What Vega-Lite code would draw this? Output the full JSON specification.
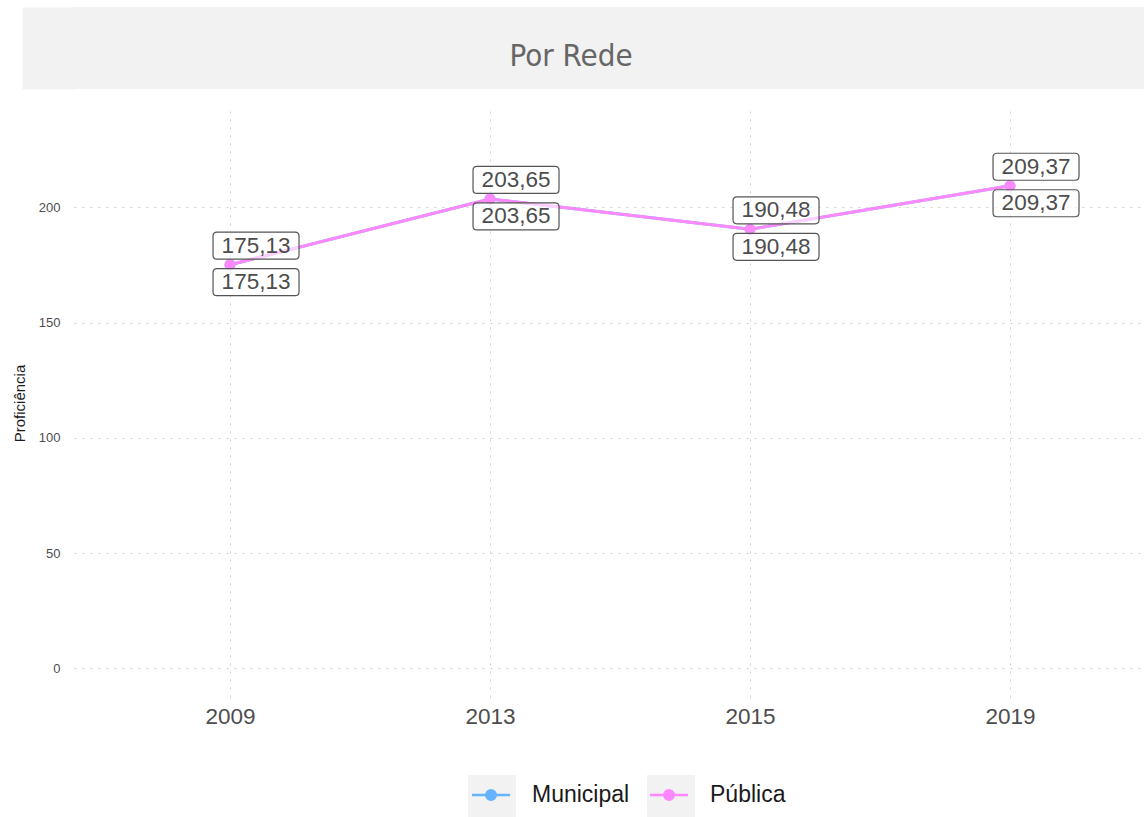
{
  "$schema": "https://vega.github.io/schema/vega-lite/v6.json",
  "background": "white",
  "padding": {"left": 12, "top": 7, "right": 0, "bottom": 0},
  "spacing": 22,
  "config": {"view": {"stroke": null}},
  "datasets": {
    "faixa": [{"painel": "Por Rede"}],
    "dados": [
      {"ano": "2009", "serie": "Municipal", "valor": 175.13, "rotulo": "175,13"},
      {"ano": "2013", "serie": "Municipal", "valor": 203.65, "rotulo": "203,65"},
      {"ano": "2015", "serie": "Municipal", "valor": 190.48, "rotulo": "190,48"},
      {"ano": "2019", "serie": "Municipal", "valor": 209.37, "rotulo": "209,37"},
      {"ano": "2009", "serie": "Pública", "valor": 175.13, "rotulo": "175,13"},
      {"ano": "2013", "serie": "Pública", "valor": 203.65, "rotulo": "203,65"},
      {"ano": "2015", "serie": "Pública", "valor": 190.48, "rotulo": "190,48"},
      {"ano": "2019", "serie": "Pública", "valor": 209.37, "rotulo": "209,37"}
    ]
  },
  "vconcat": [
    {
      "data": {"name": "faixa"},
      "width": 1070,
      "height": 82,
      "view": {"fill": "#f2f2f2", "stroke": null},
      "mark": {"type": "text", "font": "Liberation Sans Narrow, DejaVu Sans Condensed", "fontSize": 31, "color": "#666666", "dx": -38, "dy": 9, "baseline": "middle"},
      "encoding": {
        "text": {"field": "painel", "type": "nominal"},
        "y": {"field": "painel", "type": "nominal", "axis": {"title": null, "labels": false, "ticks": false, "grid": false, "domain": true, "domainColor": "#f2f2f2", "domainWidth": 52, "offset": 26}}
      }
    },
    {
      "data": {"name": "dados"},
      "width": 1070,
      "height": 584,
      "encoding": {
        "x": {
          "field": "ano", "type": "ordinal",
          "scale": {"type": "point", "padding": 0.5577, "align": 0.538},
          "axis": {"title": null, "labelAngle": 0, "labelFont": "Liberation Sans", "labelFontSize": 22.5, "labelColor": "#4d4d4d", "labelPadding": 7, "domain": false, "ticks": true, "tickSize": 3, "tickColor": "#d9d9d9", "grid": true, "gridColor": "#d0d0d0", "gridDash": [2, 6], "gridWidth": 1}
        },
        "y": {
          "field": "valor", "type": "quantitative",
          "scale": {"domain": [-11.5, 241.8], "nice": false, "zero": false},
          "axis": {"title": "Proficiência", "values": [0, 50, 100, 150, 200], "labelFont": "Liberation Sans", "labelFontSize": 13, "labelColor": "#4d4d4d", "labelPadding": 14, "domain": false, "ticks": false, "grid": true, "gridColor": "#d0d0d0", "gridDash": [2, 6], "gridWidth": 1, "titleFont": "Liberation Sans", "titleFontSize": 15, "titleFontWeight": "normal", "titleColor": "#1a1a1a", "titlePadding": 11}
        }
      },
      "layer": [
        {
          "mark": {"type": "point", "filled": true, "size": 0, "opacity": 1},
          "encoding": {
            "color": {
              "field": "serie", "type": "nominal",
              "scale": {"range": ["#f2f2f2", "#f2f2f2"]},
              "legend": {
                "title": null, "orient": "none", "legendX": 394, "legendY": 768, "direction": "horizontal",
                "symbolType": "M-1.143,-1L1.143,-1L1.143,1L-1.143,1Z",
                "symbolSize": 1764, "symbolStrokeWidth": 0, "symbolOffset": 3,
                "labelExpr": "''", "labelFontSize": 23, "labelOffset": 21,
                "columnPadding": 112, "padding": 0
              }
            }
          }
        },
        {
          "mark": {"type": "line", "strokeWidth": 3},
          "encoding": {
            "stroke": {
              "field": "serie", "type": "nominal",
              "scale": {"domain": ["Municipal", "Pública"], "range": ["#66B2FF", "#FF88FF"]},
              "legend": {
                "title": null, "orient": "none", "legendX": 394, "legendY": 768, "direction": "horizontal",
                "symbolType": "M-1.027,0L1.027,0M0.257,0A0.257,0.257,0,1,1,-0.257,0A0.257,0.257,0,1,1,0.257,0Z",
                "symbolSize": 1369, "symbolStrokeWidth": 2.5, "symbolOffset": 3,
                "labelFont": "Liberation Sans", "labelFontSize": 23, "labelColor": "#1a1a1a", "labelOffset": 21,
                "columnPadding": 15, "padding": 0
              }
            }
          }
        },
        {
          "mark": {"type": "point", "filled": true, "size": 120, "opacity": 1},
          "encoding": {
            "fill": {
              "field": "serie", "type": "nominal",
              "scale": {"domain": ["Municipal", "Pública"], "range": ["#66B2FF", "#FF88FF"]},
              "legend": {
                "title": null, "orient": "none", "legendX": 394, "legendY": 768, "direction": "horizontal",
                "symbolType": "M-1.027,0L1.027,0M0.257,0A0.257,0.257,0,1,1,-0.257,0A0.257,0.257,0,1,1,0.257,0Z",
                "symbolSize": 1369, "symbolStrokeWidth": 2.5, "symbolOffset": 3,
                "labelFont": "Liberation Sans", "labelFontSize": 23, "labelColor": "#1a1a1a", "labelOffset": 21,
                "columnPadding": 15, "padding": 0
              }
            }
          }
        },
        {
          "transform": [{"filter": "datum.serie === 'Pública'"}],
          "mark": {"type": "point", "shape": "M-0.907,-0.314L0.907,-0.314Q1,-0.314,1,-0.221L1,0.221Q1,0.314,0.907,0.314L-0.907,0.314Q-1,0.314,-1,0.221L-1,-0.221Q-1,-0.314,-0.907,-0.314Z", "size": 7396, "filled": true, "fill": "white", "fillOpacity": 0.6, "stroke": "#555555", "strokeWidth": 1.2, "opacity": 1, "xOffset": 26, "yOffset": -19}
        },
        {
          "transform": [{"filter": "datum.serie === 'Municipal'"}],
          "mark": {"type": "point", "shape": "M-0.907,-0.314L0.907,-0.314Q1,-0.314,1,-0.221L1,0.221Q1,0.314,0.907,0.314L-0.907,0.314Q-1,0.314,-1,0.221L-1,-0.221Q-1,-0.314,-0.907,-0.314Z", "size": 7396, "filled": true, "fill": "white", "fillOpacity": 0.6, "stroke": "#555555", "strokeWidth": 1.2, "opacity": 1, "xOffset": 26, "yOffset": 17.5}
        },
        {
          "transform": [{"filter": "datum.serie === 'Pública'"}],
          "mark": {"type": "text", "font": "Liberation Sans", "fontSize": 22.5, "color": "#4d4d4d", "dx": 26, "dy": -19, "baseline": "middle"},
          "encoding": {"text": {"field": "rotulo", "type": "nominal"}}
        },
        {
          "transform": [{"filter": "datum.serie === 'Municipal'"}],
          "mark": {"type": "text", "font": "Liberation Sans", "fontSize": 22.5, "color": "#4d4d4d", "dx": 26, "dy": 17.5, "baseline": "middle"},
          "encoding": {"text": {"field": "rotulo", "type": "nominal"}}
        }
      ]
    }
  ]
}
